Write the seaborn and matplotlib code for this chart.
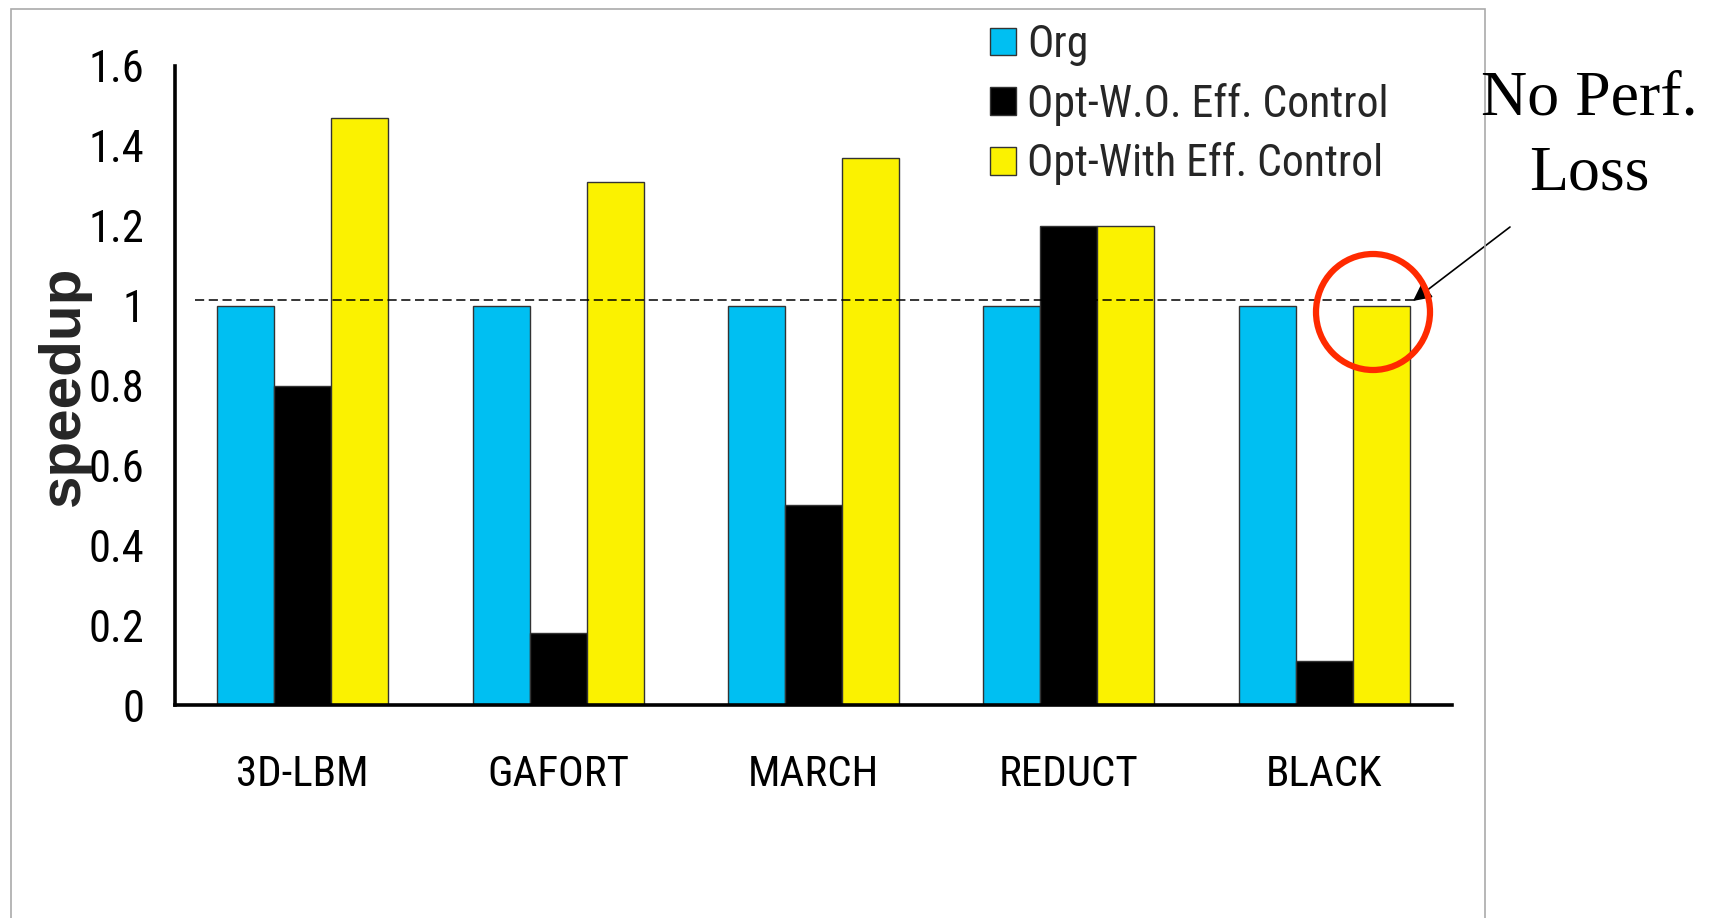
import matplotlib
matplotlib.use("Agg")
import matplotlib.pyplot as plt
from matplotlib.patches import Ellipse, Rectangle
import pandas as pd
import seaborn as sns

# Benchmark speedups per configuration
benchmarks = ["3D-LBM", "GAFORT", "MARCH", "REDUCT", "BLACK"]
org = [1.0, 1.0, 1.0, 1.0, 1.0]
opt_wo_control = [0.80, 0.18, 0.50, 1.20, 0.11]
opt_with_control = [1.47, 1.31, 1.37, 1.20, 1.00]
series_names = ["Org", "Opt-W.O. Eff. Control", "Opt-With Eff. Control"]
y_ticks = [0, 0.2, 0.4, 0.6, 0.8, 1, 1.2, 1.4, 1.6]
y_tick_labels = ["0", "0.2", "0.4", "0.6", "0.8", "1", "1.2", "1.4", "1.6"]
baseline = 1.015

df = pd.DataFrame({
    "benchmark": benchmarks * 3,
    "config": [series_names[0]] * 5 + [series_names[1]] * 5 + [series_names[2]] * 5,
    "speedup": org + opt_wo_control + opt_with_control,
})

palette = {series_names[0]: "#00BFF2", series_names[1]: "#000000", series_names[2]: "#FBF200"}

sns.set_theme(style="white")
plt.rcParams["font.family"] = ["Roboto Condensed", "DejaVu Sans Condensed",
                               "Liberation Sans", "DejaVu Sans"]
plt.rcParams["font.stretch"] = "condensed"

W, H = 1718, 918
fig = plt.figure(figsize=(W / 100, H / 100), dpi=100)
ax = fig.add_axes([175 / W, 1 - 705 / H, (1452 - 175) / W, (705 - 66) / H])

sns.barplot(data=df, x="benchmark", y="speedup", hue="config", order=benchmarks,
            hue_order=series_names, palette=palette, width=0.67, gap=0,
            edgecolor="#333333", linewidth=1.0, saturation=1, ax=ax, legend=True)

ax.set_xlim(-0.5, 4.5)
ax.set_ylim(0, 1.6)
ax.set_yticks(y_ticks)
ax.set_yticklabels(y_tick_labels)
ax.set_xlabel("")
ax.set_ylabel("")
for side in ["top", "right"]:
    ax.spines[side].set_visible(False)
for side in ["left", "bottom"]:
    ax.spines[side].set_color("black")
    ax.spines[side].set_linewidth(2.6)
ax.tick_params(axis="y", length=0, labelsize=32, colors="black", pad=22)
ax.tick_params(axis="x", length=0, labelsize=31, colors="black", pad=35)

# Dashed reference line just above 1.0
ax.axhline(baseline, xmin=0.0155, xmax=0.97, color="black", linestyle=(0, (6, 3)),
           linewidth=1.1)

# Legend
handles, labels = ax.get_legend_handles_labels()
ax.legend_.remove()
fig.legend(handles, labels, loc="upper left", bbox_to_anchor=(990 / W, 1 - 24 / H),
           frameon=False, prop={"size": 31.5}, handlelength=0.6, handleheight=0.6,
           handletextpad=0.25, labelspacing=0.38, borderpad=0, borderaxespad=0)

# Rotated axis title
fig.text(64 / W, 1 - 386 / H, "speedup", rotation=90, ha="center", va="center",
         fontsize=42, fontweight="bold", family=["Liberation Sans", "DejaVu Sans"],
         fontstretch="normal")

# Callout
fig.text(1589 / W, 1 - 137 / H, "No Perf.\nLoss", ha="center", va="center",
         fontsize=46, family=["Liberation Serif", "DejaVu Serif"], fontstretch="normal",
         color="black", linespacing=1.38)
ax.annotate("", xy=(1413, H - 301), xycoords="figure pixels",
            xytext=(1510, H - 227), textcoords="figure pixels",
            arrowprops=dict(arrowstyle="-|>", color="black", lw=1.2,
                            mutation_scale=28, shrinkA=0, shrinkB=0))
fig.add_artist(Ellipse((1373 / W, 1 - 312 / H), 114 / W, 116 / H,
                       transform=fig.transFigure, fill=False,
                       edgecolor="#FF2A00", linewidth=4.5))

# Outer frame
fig.add_artist(Rectangle((11 / W, -0.02), (1485 - 11) / W, (H - 9) / H + 0.02,
                         transform=fig.transFigure, fill=False,
                         edgecolor="#AAAAAA", linewidth=1.2))

fig.savefig("out.png", dpi=100, facecolor="white")
